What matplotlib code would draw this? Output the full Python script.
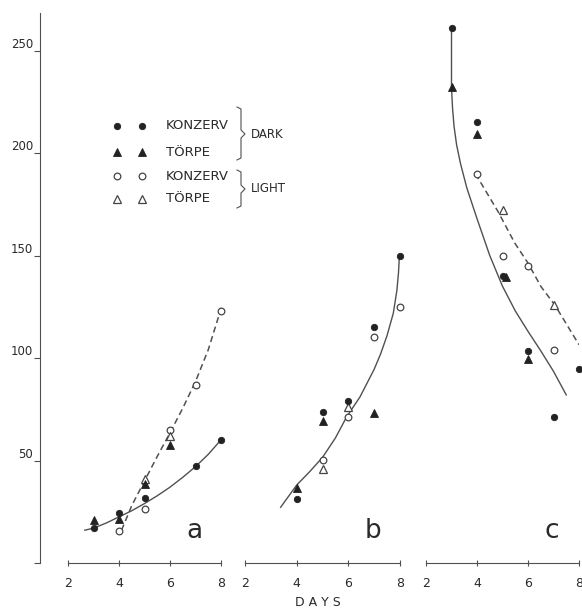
import matplotlib.pyplot as plt

# =============================================================================
# values (days, weight)
# =============================================================================
# panel a
A_DK_X = [3, 4, 5, 7, 8]
A_DK_Y = [17, 24.2, 31.5, 47.5, 60]
A_DT_X = [3, 4, 5, 6]
A_DT_Y = [21, 21.3, 38.5, 57.6]
A_LK_X = [4, 5, 6, 7, 8]
A_LK_Y = [15.8, 26.2, 65, 87, 123]
A_LT_X = [5, 6]
A_LT_Y = [41, 62]
A_SOLID_X = [2.66, 3.0, 3.5, 4.0, 4.5, 5.0, 5.5, 6.0, 6.5, 7.0, 7.5, 7.96]
A_SOLID_Y = [16, 17, 19.5, 22.5, 25.5, 29, 32.8, 37, 41.8, 47, 53, 59.5]
A_DASH_X = [4.1, 4.5, 5.0, 5.5, 6.0, 6.5, 7.0, 7.5, 8.05]
A_DASH_Y = [16, 28, 40, 52, 63.5, 75.5, 88.5, 104, 126]

# panel b
B_DK_X = [4, 5, 6, 7, 8]
B_DK_Y = [31.4, 73.8, 79, 115.3, 149.8]
B_DT_X = [4, 5, 7]
B_DT_Y = [36.4, 69.4, 73]
B_LK_X = [5, 6, 7, 8]
B_LK_Y = [50.2, 71.4, 110.1, 125]
B_LT_X = [5, 6]
B_LT_Y = [45.9, 75.9]
B_SOLID_X = [3.38, 4.0, 4.5, 5.0, 5.5, 5.94, 6.45, 7.0, 7.25, 7.5, 7.74,
             7.88, 7.94, 7.98]
B_SOLID_Y = [27.2, 38, 44.5, 51.5, 61, 71.4, 81, 94.5, 102, 111, 121.8,
             133, 141.3, 150.5]

# panel c
C_DK_X = [3, 4, 5, 6, 7, 8]
C_DK_Y = [261, 215, 140, 103.6, 71.3, 94.5]
C_DT_X = [3, 4, 5.15, 6]
C_DT_Y = [232, 209.3, 139.5, 99.4]
C_LK_X = [4, 5, 6, 7]
C_LK_Y = [190, 150, 145, 104]
C_LT_X = [5, 7]
C_LT_Y = [172, 126]
C_SOLID_X = [3.0, 3.0, 3.04, 3.1, 3.2, 3.35, 3.6, 4.0, 4.5, 5.0, 5.5, 6.0,
             6.5, 7.0, 7.5]
C_SOLID_Y = [261, 232, 222, 213, 204, 195, 183, 168, 150, 135, 123, 113,
             103.5, 93.5, 82]
C_DASH_X = [3.96, 4.04, 4.83, 5.48, 6.0, 6.51, 7.05, 7.96, 8.0]
C_DASH_Y = [190, 187.8, 171.3, 156.1, 146.3, 134.8, 125.9, 107.3, 106.5]

X_TICKS = [2, 4, 6, 8]
Y_TICKS = [0, 50, 100, 150, 200, 250]
Y_LABELS = ['', '50', '100', '150', '200', '250']

# =============================================================================
# styles
# =============================================================================
INK = '#222222'
LINE = '#505050'
TXT = '#2a2a2a'
DK = dict(ls='none', marker='o', ms=4.6, mfc=INK, mec=INK, mew=0.6)
DT = dict(ls='none', marker='^', ms=5.2, mfc=INK, mec=INK, mew=0.6)
LK = dict(ls='none', marker='o', ms=4.8, mfc='white', mec='#444444', mew=0.9)
LT = dict(ls='none', marker='^', ms=5.4, mfc='white', mec='#444444', mew=0.9)

plt.rcParams['font.family'] = 'DejaVu Sans'

W, H = 582, 614
Y_MAX = 268.3
fig = plt.figure(figsize=(W / 100, H / 100), dpi=100)


def panel(left, right):
    ax = fig.add_axes([left / W, 1 - 563 / H, (right - left) / W, 550 / H])
    ax.set_xlim(2, 8)
    ax.set_ylim(0, Y_MAX)
    for s in ['top', 'right']:
        ax.spines[s].set_visible(False)
    ax.spines['bottom'].set_bounds(2, 8)
    ax.spines['bottom'].set_color(LINE)
    ax.spines['bottom'].set_linewidth(0.8)
    ax.set_xticks(X_TICKS)
    ax.tick_params(axis='x', direction='inout', length=4, width=0.8,
                   color=LINE, pad=8, labelsize=9, labelcolor=TXT)
    ax.patch.set_visible(False)
    return ax


ax_a = panel(68, 221)
ax_b = panel(245, 400)
ax_c = panel(426, 579)

ax_a.spines['left'].set_position(('outward', 20))
ax_a.spines['left'].set_color(LINE)
ax_a.spines['left'].set_linewidth(0.8)
ax_a.set_yticks(Y_TICKS)
ax_a.set_yticklabels(Y_LABELS)
ax_a.tick_params(axis='y', direction='out', length=4, width=0.8, color=LINE,
                 pad=1, labelsize=8.5, labelcolor=TXT)
plt.setp(ax_a.get_yticklabels(), va='bottom')

for ax in [ax_b, ax_c]:
    ax.spines['left'].set_visible(False)
    ax.set_yticks([])

# =============================================================================
# curves and points
# =============================================================================
ax_a.plot(A_SOLID_X, A_SOLID_Y, color=LINE, lw=1.0)
ax_a.plot(A_DASH_X, A_DASH_Y, color=LINE, lw=1.1, ls=(0, (4, 2.5)))
ax_b.plot(B_SOLID_X, B_SOLID_Y, color=LINE, lw=1.0)
ax_c.plot(C_SOLID_X, C_SOLID_Y, color=LINE, lw=1.0)
ax_c.plot(C_DASH_X, C_DASH_Y, color=LINE, lw=1.1, ls=(0, (4, 2.5)))

for ax, data in [
        (ax_a, [(A_LK_X, A_LK_Y, LK), (A_LT_X, A_LT_Y, LT),
                (A_DT_X, A_DT_Y, DT), (A_DK_X, A_DK_Y, DK)]),
        (ax_b, [(B_LK_X, B_LK_Y, LK), (B_LT_X, B_LT_Y, LT),
                (B_DT_X, B_DT_Y, DT), (B_DK_X, B_DK_Y, DK)]),
        (ax_c, [(C_LK_X, C_LK_Y, LK), (C_LT_X, C_LT_Y, LT),
                (C_DT_X, C_DT_Y, DT), (C_DK_X, C_DK_Y, DK)])]:
    for x, y, st in data:
        ax.plot(x, y, clip_on=False, zorder=3, **st)

for ax, lab in [(ax_a, 'a'), (ax_b, 'b'), (ax_c, 'c')]:
    ax.text(6.95, 15.5, lab, ha='center', va='center', fontsize=19,
            color=TXT)

# =============================================================================
# legend, brackets, axis title (pixel overlay)
# =============================================================================
ov = fig.add_axes([0, 0, 1, 1])
ov.set_xlim(0, W)
ov.set_ylim(H, 0)
ov.axis('off')
ov.patch.set_visible(False)

rows = [(125.5, DK, 'KONZERV'), (152, DT, 'TÖRPE'),
        (176, LK, 'KONZERV'), (199, LT, 'TÖRPE')]
for y, st, name in rows:
    ov.plot([117, 142], [y, y], **st)
    ov.text(166, y, name, va='center', ha='left', fontsize=9.5, color=TXT)

ov.plot([237, 241, 241, 245, 241, 241, 237],
        [107, 109, 130, 134, 138, 158, 160], color=LINE, lw=0.8)
ov.plot([237, 241, 241, 245, 241, 241, 237],
        [170, 172, 185, 189, 193, 206, 208], color=LINE, lw=0.8)
ov.text(251, 135, 'DARK', va='center', ha='left', fontsize=8.5, color=TXT)
ov.text(251, 188, 'LIGHT', va='center', ha='left', fontsize=8.5, color=TXT)

ov.text(318, 603, 'D A Y S', ha='center', va='center', fontsize=9,
        color=TXT)

fig.savefig('out.png', dpi=100)
